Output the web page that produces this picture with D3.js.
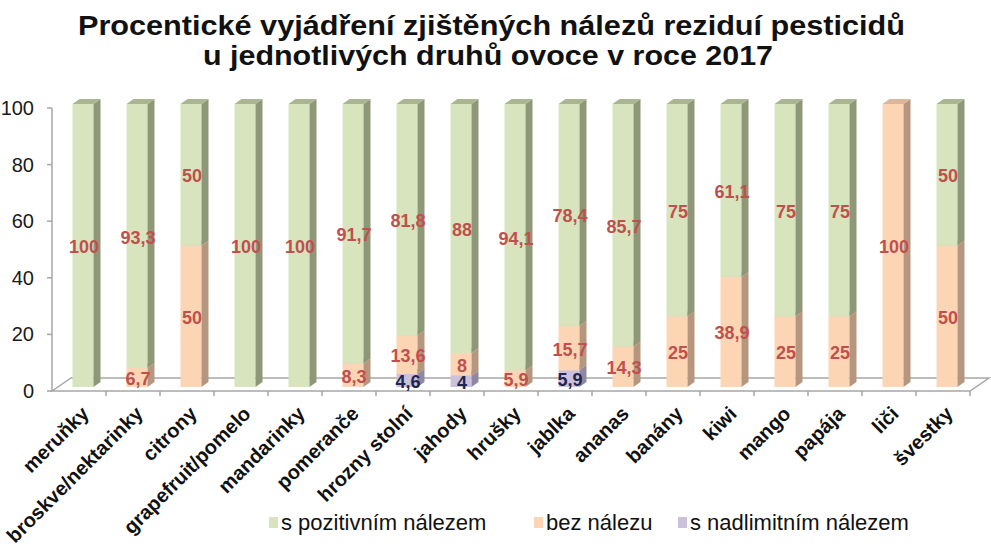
<!DOCTYPE html>
<html>
<head>
<meta charset="utf-8">
<script src="https://cdn.jsdelivr.net/npm/d3@7/dist/d3.min.js"></script>
<style>
  html, body { margin: 0; padding: 0; background: #fff; }
  svg { display: block; }
</style>
</head>
<body>
<svg id="chart" width="991" height="558"></svg>
<script>
// ---------- data ----------
const categories = ["meruňky", "broskve/nektarinky", "citrony", "grapefruit/pomelo", "mandarinky",
  "pomeranče", "hrozny stolní", "jahody", "hrušky", "jablka", "ananas", "banány", "kiwi",
  "mango", "papája", "liči", "švestky"];
const positive = [100, 93.3, 50, 100, 100, 91.7, 81.8, 88, 94.1, 78.4, 85.7, 75, 61.1, 75, 75, 0, 50];
const noFinding = [0, 6.7, 50, 0, 0, 8.3, 13.6, 8, 5.9, 15.7, 14.3, 25, 38.9, 25, 25, 100, 50];
const overLimit = [0, 0, 0, 0, 0, 0, 4.6, 4, 0, 5.9, 0, 0, 0, 0, 0, 0, 0];
const yTicks = [0, 20, 40, 60, 80, 100];
const seriesNames = ["s pozitivním nálezem", "bez nálezu", "s nadlimitním nálezem"];
const titleLines = ["Procentické vyjádření zjištěných nálezů reziduí pesticidů",
  "u jednotlivých druhů ovoce v roce 2017"];

// ---------- styles ----------
const colors = {
  "s pozitivním nálezem": { front: "#d7e4bd", side: "#8e9878", top: "#aab691", label: "#c0504d" },
  "bez nálezu":           { front: "#fcd5b5", side: "#b5977f", top: "#dcb79b", label: "#c0504d" },
  "s nadlimitním nálezem":{ front: "#ccc1da", side: "#8f88a0", top: "#aea5bf", label: "#1f2650" }
};

const svg = d3.select("#chart");

// scales
const x = d3.scaleBand().domain(categories).range([52, 970]).paddingInner(0).paddingOuter(0);
const y = d3.scaleLinear().domain([0, 100]).range([391, 108]);

// 3D parameters
const floorDX = 19, floorDY = -13;     // floor depth
const barShiftX = 4, barShiftY = -4;   // bar front face position on floor
const sideDX = 7, sideDY = -5;         // bar depth
const barW = 21;

// stacked data (bottom -> top): over limit, no finding, positive
const stackOrder = ["s nadlimitním nálezem", "bez nálezu", "s pozitivním nálezem"];
const valuesBy = {
  "s pozitivním nálezem": positive,
  "bez nálezu": noFinding,
  "s nadlimitním nálezem": overLimit
};
const table = categories.map((c, i) => {
  const row = { cat: c };
  stackOrder.forEach(s => row[s] = valuesBy[s][i]);
  return row;
});
const stacked = d3.stack().keys(stackOrder)(table);

// ---------- title ----------
svg.append("text")
  .attr("x", 78).attr("y", 35)
  .attr("font-family", "Liberation Sans, Arial, sans-serif")
  .attr("font-weight", "bold").attr("font-size", 28)
  .attr("textLength", 827).attr("lengthAdjust", "spacingAndGlyphs")
  .attr("fill", "#111")
  .text(titleLines[0]);
svg.append("text")
  .attr("x", 203).attr("y", 65)
  .attr("font-family", "Liberation Sans, Arial, sans-serif")
  .attr("font-weight", "bold").attr("font-size", 28)
  .attr("textLength", 570).attr("lengthAdjust", "spacingAndGlyphs")
  .attr("fill", "#111")
  .text(titleLines[1]);

// ---------- floor ----------
const x0 = x.range()[0], x1 = x.range()[1];
const y0 = y(0);
svg.append("path")
  .attr("d", `M${x0},${y0} L${x0 + floorDX},${y0 + floorDY} L${x1 + floorDX},${y0 + floorDY} L${x1},${y0} Z`)
  .attr("fill", "#fff").attr("stroke", "#a6a6a6").attr("stroke-width", 1.5);

// y axis line & ticks
svg.append("line").attr("x1", x0).attr("x2", x0).attr("y1", y(100)).attr("y2", y0)
  .attr("stroke", "#a6a6a6").attr("stroke-width", 1.5);
const yAxisG = svg.append("g");
yTicks.forEach(t => {
  yAxisG.append("line").attr("x1", x0 - 5).attr("x2", x0).attr("y1", y(t)).attr("y2", y(t))
    .attr("stroke", "#a6a6a6").attr("stroke-width", 1.5);
  yAxisG.append("text").attr("x", 34).attr("y", y(t))
    .attr("text-anchor", "end").attr("dominant-baseline", "central")
    .attr("font-family", "Liberation Sans, Arial, sans-serif").attr("font-size", 20)
    .attr("fill", "#1a1a1a").text(t);
});
// x ticks at band boundaries
categories.forEach((c, i) => {
  const bx = x(c);
  if (i > 0) svg.append("line").attr("x1", bx).attr("x2", bx).attr("y1", y0).attr("y2", y0 + 5)
    .attr("stroke", "#a6a6a6").attr("stroke-width", 1.5);
});
svg.append("line").attr("x1", x1).attr("x2", x1).attr("y1", y0).attr("y2", y0 + 5)
  .attr("stroke", "#a6a6a6").attr("stroke-width", 1.5);

// ---------- bars ----------
const barsG = svg.append("g");
const barLeft = c => x(c) + x.bandwidth() / 2 - barW / 2 + barShiftX;
stacked.forEach(layer => {
  const key = layer.key;
  const col = colors[key];
  layer.forEach(d => {
    const v0 = d[0], v1 = d[1];
    if (v1 - v0 <= 0) return;
    const c = d.data.cat;
    const l = barLeft(c), r = l + barW;
    const yt = y(v1) + barShiftY, yb = y(v0) + barShiftY;
    const g = barsG.append("g");
    g.append("rect").attr("x", l).attr("y", yt).attr("width", barW).attr("height", yb - yt)
      .attr("fill", col.front);
    g.append("path")
      .attr("d", `M${r},${yt} L${r + sideDX},${yt + sideDY} L${r + sideDX},${yb + sideDY} L${r},${yb} Z`)
      .attr("fill", col.side);
    g.append("path")
      .attr("d", `M${l},${yt} L${l + sideDX},${yt + sideDY} L${r + sideDX},${yt + sideDY} L${r},${yt} Z`)
      .attr("fill", col.top);
  });
});

// ---------- value labels ----------
const fmt = v => String(v).replace(".", ",");
stacked.forEach(layer => {
  const col = colors[layer.key];
  layer.forEach(d => {
    const v = d[1] - d[0];
    if (v <= 0) return;
    const c = d.data.cat;
    const cx = barLeft(c) + barW / 2 + 1;
    const cy = y((d[0] + d[1]) / 2) + barShiftY + 1.5;
    svg.append("text").attr("x", cx).attr("y", cy)
      .attr("text-anchor", "middle").attr("dominant-baseline", "central")
      .attr("font-family", "Liberation Sans, Arial, sans-serif").attr("font-weight", "bold")
      .attr("font-size", 18).attr("fill", col.label)
      .text(fmt(Math.round(v * 10) / 10));
  });
});

// ---------- category labels ----------
categories.forEach(c => {
  const ax = x(c) + x.bandwidth() / 2 + 11;
  const ay = 415;
  svg.append("text")
    .attr("transform", `translate(${ax},${ay}) rotate(-45)`)
    .attr("text-anchor", "end")
    .attr("font-family", "Liberation Sans, Arial, sans-serif").attr("font-weight", "bold")
    .attr("font-size", 20).attr("fill", "#111")
    .text(c);
});

// ---------- legend ----------
const legendX = [269, 534, 678];
const legendG = svg.append("g");
seriesNames.forEach((s, i) => {
  legendG.append("rect").attr("x", legendX[i]).attr("y", 517).attr("width", 9).attr("height", 11)
    .attr("fill", colors[s].front);
  legendG.append("text").attr("x", legendX[i] + 12).attr("y", 530)
    .attr("font-family", "Liberation Sans, Arial, sans-serif").attr("font-size", 22)
    .attr("fill", "#111").text(s);
});
</script>
</body>
</html>
